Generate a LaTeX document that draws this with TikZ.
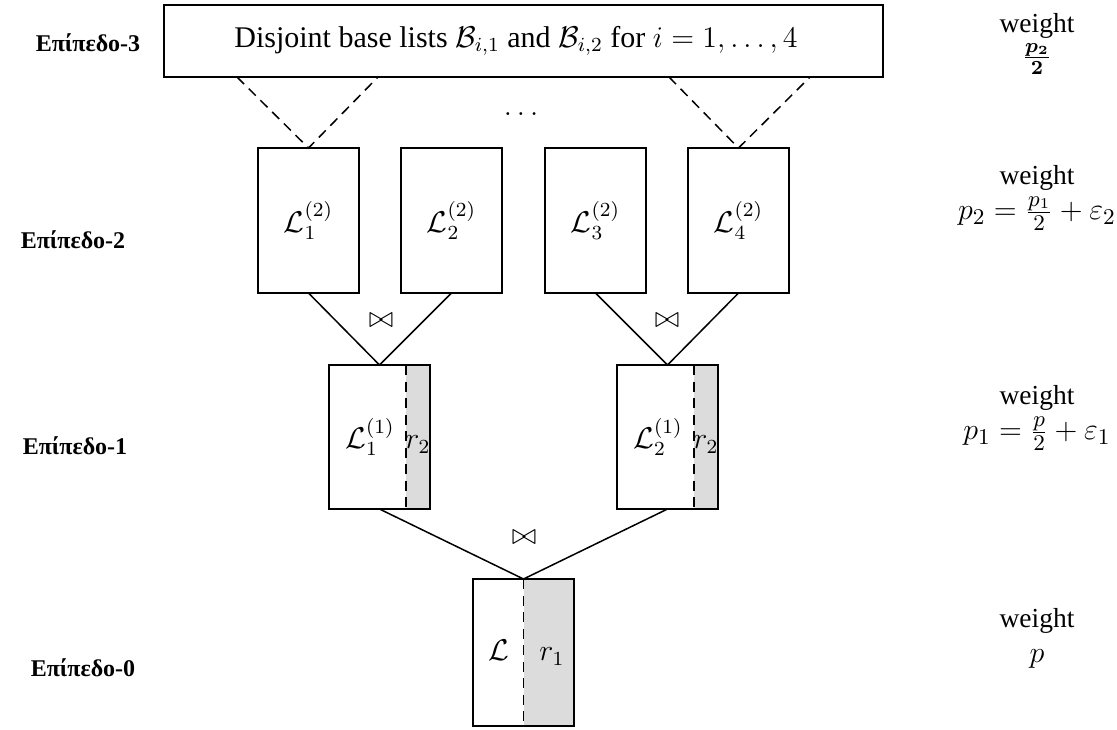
\documentclass[tikz,border=0pt]{standalone}
\usepackage{amsmath}
\usepackage[no-math]{fontspec}
\setmainfont{Liberation Serif}
\definecolor{bandgrey}{HTML}{DCDCDC}
\begin{document}
\begin{tikzpicture}[x=0.4pt,y=-0.4pt,
  line width=0.6pt,
  every node/.style={inner sep=0pt, outer sep=0pt},
  dashline/.style={dash pattern=on 4pt off 2.6pt},
  topbox/.style={draw, minimum width=287.6pt, minimum height=28.8pt, font=\fontsize{12}{14}\selectfont},
  listbox/.style={draw, minimum width=40.4pt, minimum height=58pt, font=\fontsize{12}{14}\selectfont},
  lvlone/.style={draw, minimum width=40.4pt, minimum height=57.6pt, font=\fontsize{12}{14}\selectfont,
    path picture={
      \fill[bandgrey] ([xshift=-9.6pt]path picture bounding box.north east) rectangle (path picture bounding box.south east);
      \draw[dashline] ([xshift=-9.6pt]path picture bounding box.north east) -- ([xshift=-9.6pt]path picture bounding box.south east);}},
  lvlzero/.style={draw, minimum width=40.4pt, minimum height=58.8pt, font=\fontsize{12}{14}\selectfont,
    path picture={
      \fill[bandgrey] (path picture bounding box.north) rectangle (path picture bounding box.south east);
      \draw[dashline] (path picture bounding box.north) -- (path picture bounding box.south);}},
  levellabel/.style={font=\fontsize{9.6}{11}\selectfont\bfseries},
  weightlabel/.style={align=center, font=\fontsize{11}{14}\selectfont},
  joinsym/.style={font=\fontsize{12}{14}\selectfont}
]
\useasboundingbox (0,0) rectangle (1117,729);

% level 3
\node[topbox] (B) at (523.5,41) {\hspace*{-6pt}Disjoint base lists $\mathcal{B}_{i,1}$ and $\mathcal{B}_{i,2}$ for $i=1,\ldots,4$};

% level 2
\node[listbox] (L21) at (308.5,220.5) {$\mathcal{L}_1^{(2)}$};
\node[listbox] (L22) at (451.5,220.5) {$\mathcal{L}_2^{(2)}$};
\node[listbox] (L23) at (595.5,220.5) {$\mathcal{L}_3^{(2)}$};
\node[listbox] (L24) at (738.5,220.5) {$\mathcal{L}_4^{(2)}$};

% level 1
\node[lvlone] (L11) at (379.5,437) {\makebox[0pt]{\hspace*{-7.6pt}$\mathcal{L}_1^{(1)}$}\makebox[0pt]{\hspace*{30.8pt}$r_2$}};
\node[lvlone] (L12) at (667.5,437) {\makebox[0pt]{\hspace*{-7.6pt}$\mathcal{L}_2^{(1)}$}\makebox[0pt]{\hspace*{30.8pt}$r_2$}};

% level 0
\node[lvlzero] (L0) at (523.5,652.5) {\makebox[0pt]{\hspace*{-19.6pt}$\mathcal{L}$}\makebox[0pt]{\hspace*{22.8pt}$r_1$}};

% dashed connectors from the base lists
\coordinate (d1) at ([xshift=-114.6pt]B.south);
\coordinate (d2) at ([xshift=-58.2pt]B.south);
\coordinate (d3) at ([xshift=58.2pt]B.south);
\coordinate (d4) at ([xshift=114.6pt]B.south);
\draw[dashline] (d1) -- (L21.north) -- (d2);
\draw[dashline] (d3) -- (L24.north) -- (d4);
\node[font=\fontsize{12}{14}\selectfont] (dots) at (523.5,114) {$\dots$};

% join connectors
\draw (L21.south) -- (L11.north) -- (L22.south);
\draw (L23.south) -- (L12.north) -- (L24.south);
\draw (L11.south) -- (L0.north) -- (L12.south);
\node[joinsym] (j1) at (381,321) {$\bowtie$};
\node[joinsym] (j2) at (667,321) {$\bowtie$};
\node[joinsym] (j3) at (524,537) {$\bowtie$};

% level labels
\node[levellabel] (lv3) at (88,43) {Επίπεδο-3};
\node[levellabel] (lv2) at (73,240) {Επίπεδο-2};
\node[levellabel] (lv1) at (75,446) {Επίπεδο-1};
\node[levellabel] (lv0) at (83,668) {Επίπεδο-0};

% weights
\node[weightlabel] (w3) at (1037,44) {weight\\[-1pt]{\boldmath$\frac{p_2}{2}$}};
\node[weightlabel] (w2) at (1037,198) {weight\\{\fontsize{12.5}{14}\selectfont$p_2=\frac{p_1}{2}+\varepsilon_2$}};
\node[weightlabel] (w1) at (1037,418) {weight\\{\fontsize{12.5}{14}\selectfont$p_1=\frac{p}{2}+\varepsilon_1$}};
\node[weightlabel] (w0) at (1037,638) {weight\\{\fontsize{12.5}{14}\selectfont$p$}};
\end{tikzpicture}
\end{document}
